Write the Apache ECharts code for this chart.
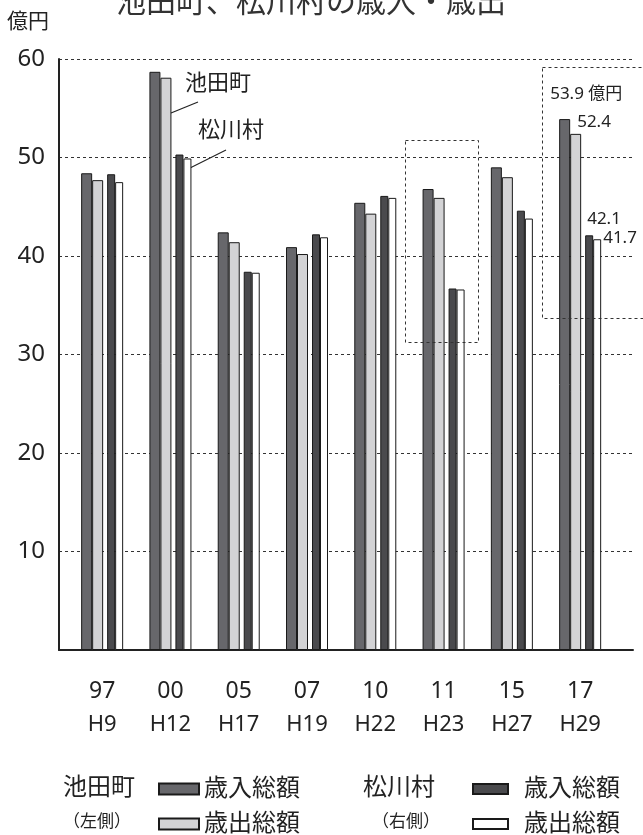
<!DOCTYPE html>
<html>
<head>
<meta charset="utf-8">
<script src="https://cdn.jsdelivr.net/npm/echarts@6/dist/echarts.min.js"></script>
<style>
  html, body { margin: 0; padding: 0; background: #fff; }
  #chart { width: 643px; height: 835px; }
</style>
</head>
<body>
<div id="chart"></div>
<script>
  // 年度（西暦下2桁 / 平成）
  const years = ['97', '00', '05', '07', '10', '11', '15', '17']
  const heisei = ['H9', 'H12', 'H17', 'H19', 'H22', 'H23', 'H27', 'H29']

  // 億円
  const ikedaIn = [48.4, 58.7, 42.4, 40.9, 45.4, 46.8, 49.0, 53.9]
  const ikedaOut = [47.7, 58.1, 41.4, 40.2, 44.3, 45.9, 48.0, 52.4]
  const matsuIn = [48.3, 50.3, 38.4, 42.2, 46.1, 36.7, 44.6, 42.1]
  const matsuOut = [47.5, 49.9, 38.3, 41.9, 45.9, 36.6, 43.8, 41.7]

  const yTicks = [0, 10, 20, 30, 40, 50, 60]

  const font = '"Noto Sans", "Noto Sans CJK JP", sans-serif'
  const ink = '#222'

  const chart = echarts.init(document.getElementById('chart'))

  // 最後の年度だけ数値を出す
  function withLastLabel(values, labelPos, fmt) {
    return values.map((v, i) => {
      if (i !== values.length - 1) return v
      return {
        value: v,
        label: {
          show: true,
          position: labelPos,
          align: 'left',
          verticalAlign: 'middle',
          formatter: fmt || '{c}',
          fontSize: 17,
          fontFamily: font,
          color: ink
        }
      }
    })
  }

  function barSeries(name, values, width, color, labelPos, fmt) {
    return {
      name: name,
      type: 'bar',
      xAxisIndex: 1,
      yAxisIndex: 1,
      barWidth: width,
      barGap: 0,
      itemStyle: {
        color: color,
        borderColor: '#1a1a1a',
        borderWidth: 1
      },
      emphasis: { disabled: true },
      data: withLastLabel(values, labelPos, fmt)
    }
  }

  function oneLegend(name, label, left, top, w, h, pad) {
    return {
      data: [name],
      left: left,
      top: top,
      padding: 0,
      itemWidth: w,
      itemHeight: h,
      icon: 'rect',
      selectedMode: false,
      formatter: () => label,
      textStyle: {
        fontSize: 24,
        fontFamily: font,
        color: ink,
        padding: [0, 0, 0, pad]
      }
    }
  }

  chart.setOption({
    animation: false,
    grid: [
      { left: 59, right: 10, top: 59, bottom: 185 },
      { left: 68, right: 28.7, top: 59, bottom: 185 }
    ],
    xAxis: [{
      gridIndex: 0,
      type: 'value',
      min: 0,
      max: 1,
      axisLine: { show: true, onZero: false, lineStyle: { color: ink, width: 2 } },
      axisTick: { show: false },
      axisLabel: { show: false },
      splitLine: { show: false }
    }, {
      gridIndex: 1,
      type: 'category',
      data: years,
      axisLine: { show: false },
      axisTick: { show: false },
      axisLabel: {
        interval: 0,
        margin: 24,
        formatter: (v, i) => '{a|' + v + '}\n{b|' + heisei[i] + '}',
        rich: {
          a: { fontSize: 23, fontFamily: font, color: ink, lineHeight: 34 },
          b: { fontSize: 22, fontFamily: font, color: ink, lineHeight: 34 }
        }
      }
    }],
    yAxis: [{
      gridIndex: 0,
      type: 'value',
      min: yTicks[0],
      max: yTicks[yTicks.length - 1],
      interval: 10,
      axisLine: { show: true, lineStyle: { color: ink, width: 2 } },
      axisTick: { show: false },
      axisLabel: {
        margin: 14,
        fontSize: 24,
        fontFamily: font,
        color: ink,
        formatter: v => (v === 0 ? '' : v)
      },
      splitLine: {
        show: true,
        lineStyle: { color: '#333', type: [3, 3], width: 1 }
      }
    }, {
      gridIndex: 1,
      type: 'value',
      min: yTicks[0],
      max: yTicks[yTicks.length - 1],
      show: false
    }],
    legend: [
      oneLegend('池田町歳入総額', '歳入総額', 158, 777, 40, 11, 0),
      oneLegend('池田町歳出総額', '歳出総額', 158, 812, 40, 11, 0),
      oneLegend('松川村歳入総額', '歳入総額', 472, 777, 35, 10, 11),
      oneLegend('松川村歳出総額', '歳出総額', 472, 812, 35, 10, 11)
    ],
    series: [
      barSeries('池田町歳入総額', ikedaIn, 11, '#67676b', [-9, -25], '{c} 億円'),
      barSeries('池田町歳出総額', ikedaOut, 11, '#d3d3d5', [7, -12]),
      // 池田町と松川村の間のすき間
      {
        name: 'gap',
        type: 'bar',
        xAxisIndex: 1,
        yAxisIndex: 1,
        barWidth: 4,
        barGap: 0,
        silent: true,
        data: years.map(() => '-')
      },
      barSeries('松川村歳入総額', matsuIn, 8, '#4a4a4d', [2, -16]),
      barSeries('松川村歳出総額', matsuOut, 8, '#ffffff', [10, -1])
    ],
    graphic: [
      {
        type: 'text', x: 311, y: -12,
        style: { text: '池田町、松川村の歳入・歳出', align: 'center', fontSize: 30, fontFamily: font, fill: '#333' }
      },
      { type: 'text', x: 7, y: 12, style: { text: '億円', fontSize: 21, fontFamily: font, fill: ink } },
      // 凡例の見出し
      { type: 'text', x: 63, y: 776, style: { text: '池田町', fontSize: 24, fontFamily: font, fill: ink } },
      { type: 'text', x: 63, y: 814, style: { text: '（左側）', fontSize: 17, fontFamily: font, fill: ink } },
      { type: 'text', x: 363, y: 776, style: { text: '松川村', fontSize: 24, fontFamily: font, fill: ink } },
      { type: 'text', x: 372, y: 814, style: { text: '（右側）', fontSize: 17, fontFamily: font, fill: ink } },
      // H12 の引き出し
      { type: 'text', x: 185, y: 73, style: { text: '池田町', fontSize: 22, fontFamily: font, fill: ink } },
      { type: 'line', shape: { x1: 171, y1: 113, x2: 198, y2: 102 }, style: { stroke: ink, lineWidth: 1.2 } },
      { type: 'text', x: 198, y: 120, style: { text: '松川村', fontSize: 22, fontFamily: font, fill: ink } },
      { type: 'line', shape: { x1: 190, y1: 168, x2: 226, y2: 150 }, style: { stroke: ink, lineWidth: 1.2 } },
      // 点線の囲み
      {
        type: 'rect', z: 100,
        shape: { x: 405.5, y: 140.5, width: 73, height: 202 },
        style: { fill: 'none', stroke: '#333', lineWidth: 1, lineDash: [3, 3] }
      },
      {
        type: 'rect', z: 100,
        shape: { x: 542.5, y: 67.5, width: 120, height: 251 },
        style: { fill: 'none', stroke: '#333', lineWidth: 1, lineDash: [3, 3] }
      }
    ]
  })
</script>
</body>
</html>
